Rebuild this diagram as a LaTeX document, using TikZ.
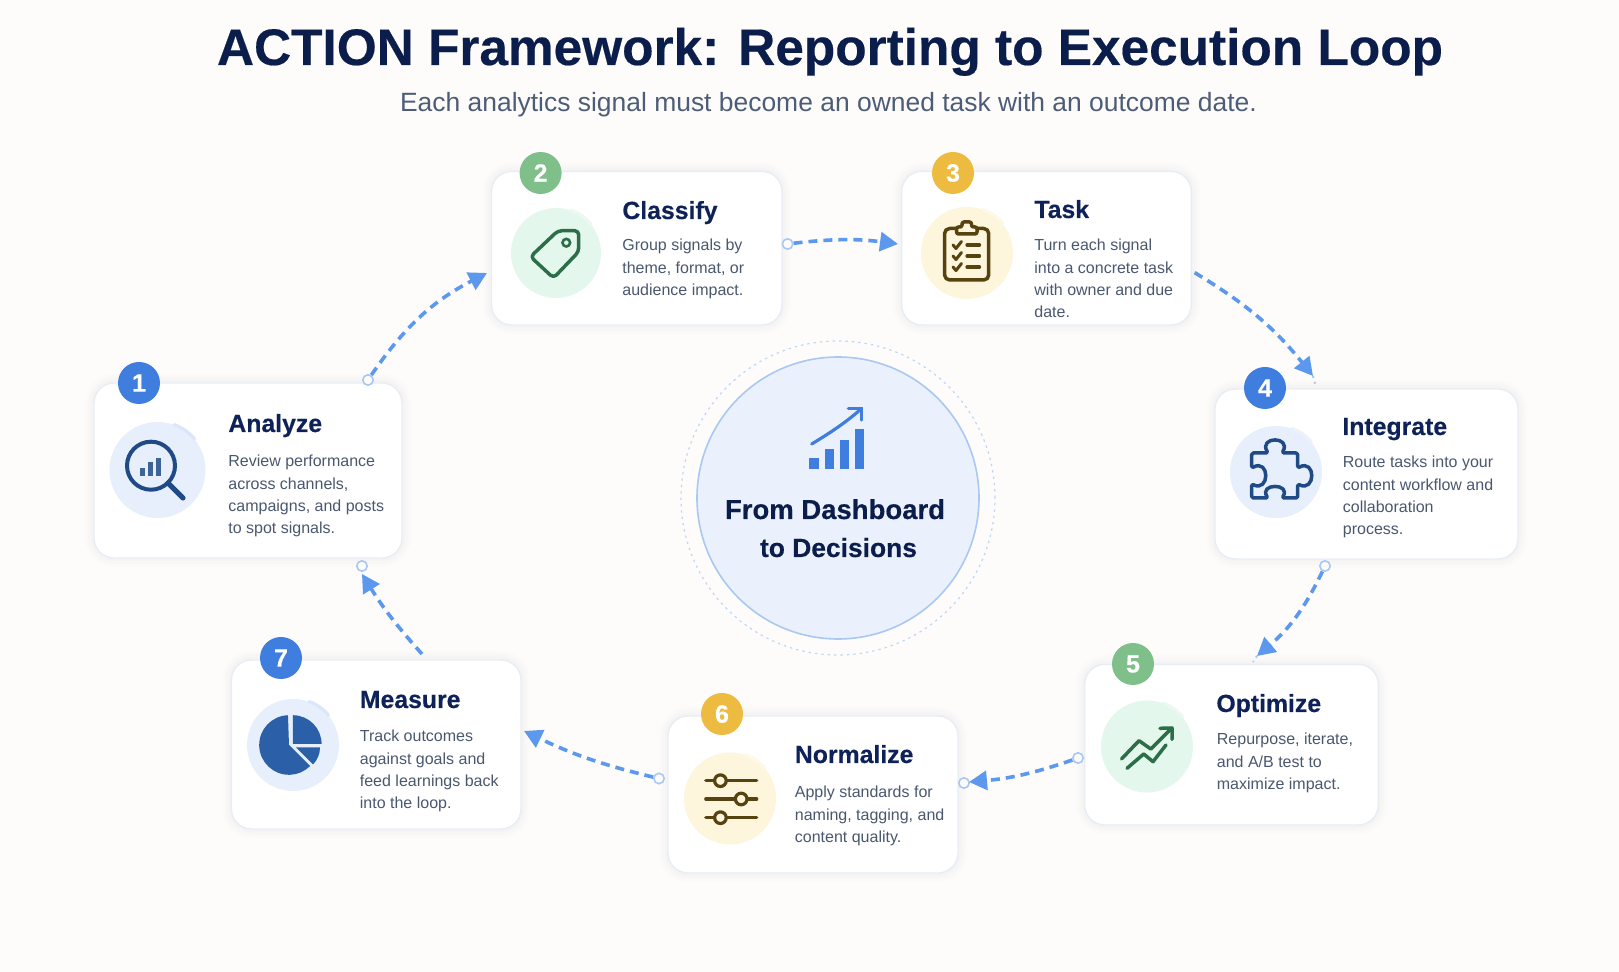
\documentclass[tikz,border=0pt]{standalone}
\usepackage{fontspec}
\setmainfont{Liberation Sans}[BoldFeatures={FakeBold=0.35}]
\usetikzlibrary{arrows.meta}
\definecolor{pagebg}{HTML}{FDFCFA}
\definecolor{navy}{HTML}{0E2259}
\definecolor{headnavy}{HTML}{0B1E4B}
\definecolor{bodytext}{HTML}{4A586F}
\definecolor{subtext}{HTML}{4D5D78}
\definecolor{edgecard}{HTML}{E8EDF4}
\definecolor{flowblue}{HTML}{5C98EE}
\definecolor{dotblue}{HTML}{A9C8F5}
\definecolor{badgeblue}{HTML}{3F7EDF}
\definecolor{badgegreen}{HTML}{7FC08A}
\definecolor{badgeyellow}{HTML}{EDBB3F}
\definecolor{softblue}{HTML}{E6EFFB}
\definecolor{softgreen}{HTML}{E4F7EC}
\definecolor{softyellow}{HTML}{FDF6DC}
\definecolor{iconblue}{HTML}{1F4A85}
\definecolor{icongreen}{HTML}{2B6E47}
\definecolor{iconbrown}{HTML}{57430F}
\definecolor{piefill}{HTML}{2B5FA8}
\definecolor{hubfill}{HTML}{EBF1FC}
\definecolor{hubedge}{HTML}{A9C8F2}
\definecolor{shadowc}{HTML}{5A6E96}
\tikzset{
  cardbox/.style={rectangle,rounded corners=10pt,fill=white,draw=edgecard,line width=.7pt,inner sep=0pt,
    preaction={draw=shadowc,draw opacity=.012,line width=9pt},
    preaction={draw=shadowc,draw opacity=.014,line width=6pt},
    preaction={draw=shadowc,draw opacity=.018,line width=3pt}},
  badge/.style={circle,minimum size=21pt,inner sep=0pt,text=white,font=\fontsize{12.5}{14}\selectfont\bfseries},
  iconbg/.style={circle,minimum size=46pt,inner sep=0pt},
  cardtitle/.style={anchor=base west,inner sep=0pt,text=navy,font=\fontsize{12.4}{15}\selectfont\bfseries},
  cardbody/.style={anchor=base west,inner sep=0pt,text=bodytext,font=\fontsize{8}{11.15}\selectfont},
  flow/.style={draw=flowblue,line width=1.8pt,dash pattern=on 4.5pt off 3pt,-{Triangle[length=9pt,width=9.5pt,fill=flowblue]}},
  tailmark/.style={draw=dotblue,line width=1pt,dash pattern=on 1pt off 2pt},
  portdot/.style={circle,minimum size=5.2pt,inner sep=0pt,fill=pagebg,draw=dotblue,line width=.8pt},
  iconline/.style={line width=1.75pt,line cap=round,line join=round},
  lighttab/.style={line width=1.6pt,line cap=round},
}
\newcommand{\lines}[1]{\begin{tabular}[t]{@{}l@{}}#1\end{tabular}}
\begin{document}
\begin{tikzpicture}[x=0.5pt,y=-0.5pt]
\useasboundingbox (0,0) rectangle (1619,972);
\fill[pagebg] (0,0) rectangle (1619,972);

% heading
\node[anchor=base,inner sep=0pt,text=headnavy,font=\fontsize{25.68}{30}\selectfont\bfseries] (heading) at (830,65) {ACTION Framework: Reporting to Execution Loop};
\node[anchor=base,inner sep=0pt,text=subtext,font=\fontsize{13.22}{16}\selectfont] (subheading) at (828.5,112) {Each analytics signal must become an owned task with an outcome date.};

% hub
\node[circle,minimum size=157pt,inner sep=0pt,draw=dotblue!75!white,line width=.6pt,dash pattern=on 1.2pt off 2pt] (hubring) at (838,498) {};
\node[circle,minimum size=141pt,inner sep=0pt,fill=hubfill,draw=hubedge,line width=.8pt] (hub) at (838,498) {};
\fill[badgeblue] (809.3,458.3) rectangle (819,468.7);
\fill[badgeblue] (825,449.3) rectangle (833.7,468.7);
\fill[badgeblue] (840,440.3) rectangle (849,468.7);
\fill[badgeblue] (855,429.3) rectangle (864,468.7);
\draw[badgeblue,iconline,line width=1.6pt] (811.7,444) .. controls (830,433) and (848,421) .. (861.7,408.3);
\draw[badgeblue,iconline,line width=1.6pt] (848.3,408.3) -- (861.7,408.3) -- (861.7,420);
\node[anchor=base,inner sep=0pt,text=headnavy,font=\fontsize{13.75}{16}\selectfont\bfseries] (hubone) at (835,519) {From Dashboard};
\node[anchor=base,inner sep=0pt,text=headnavy,font=\fontsize{13.2}{16}\selectfont\bfseries] (hubtwo) at (838.5,557) {to Decisions};

% connector ends that sit in free space
\coordinate (tip12) at (487,273);
\coordinate (tip23) at (898,244);
\coordinate (tip34) at (1313,376);
\coordinate (end34) at (1316,387);
\coordinate (tip45) at (1257,656);
\coordinate (end45) at (1253,662);
\coordinate (tip56) at (969,782);
\coordinate (tip67) at (524,731);
\coordinate (tip71) at (362,574);
\coordinate (start71) at (422,654);
\coordinate (start34) at (1194.6,272.6);

% cards
\node[cardbox,minimum width=154pt,minimum height=87.5pt] (card1) at (248,470.5) {};
\node[cardbox,minimum width=145.25pt,minimum height=76.8pt] (card2) at (636.75,248.2) {};
\node[cardbox,minimum width=144.8pt,minimum height=76.8pt] (card3) at (1046.5,248.2) {};
\node[cardbox,minimum width=151.5pt,minimum height=85pt] (card4) at (1366.5,474) {};
\node[cardbox,minimum width=146.8pt,minimum height=80.3pt] (card5) at (1231.5,744.7) {};
\node[cardbox,minimum width=145pt,minimum height=78.5pt] (card6) at (813,794.5) {};
\node[cardbox,minimum width=144.8pt,minimum height=84.5pt] (card7) at (376.2,744.5) {};

% icon discs
\node[iconbg,fill=softblue,minimum size=48pt] (icon1) at (157.5,470) {};
\node[iconbg,fill=softgreen,minimum size=45pt] (icon2) at (556,253) {};
\node[iconbg,fill=softyellow] (icon3) at (967,253) {};
\node[iconbg,fill=softblue] (icon4) at (1276,472) {};
\node[iconbg,fill=softgreen] (icon5) at (1147,746.5) {};
\node[iconbg,fill=softyellow] (icon6) at (730,798.5) {};
\node[iconbg,fill=softblue] (icon7) at (293,745) {};
\draw[lighttab,draw=softblue!80!dotblue] (icon1.40) arc[start angle=40,end angle=70,radius=24pt];
\draw[lighttab,draw=softgreen!70!white] (icon2.40) arc[start angle=40,end angle=70,radius=22.5pt];
\draw[lighttab,draw=softyellow!70!white] (icon3.40) arc[start angle=40,end angle=70,radius=23pt];
\draw[lighttab,draw=softblue!80!white] (icon4.40) arc[start angle=40,end angle=70,radius=23pt];
\draw[lighttab,draw=softgreen!70!white] (icon5.40) arc[start angle=40,end angle=70,radius=23pt];
\draw[lighttab,draw=softyellow!70!white] (icon6.40) arc[start angle=40,end angle=70,radius=23pt];
\draw[lighttab,draw=softblue!80!dotblue] (icon7.40) arc[start angle=40,end angle=70,radius=23pt];

% badges
\node[badge,fill=badgeblue] (badge1) at (139,383) {1};
\node[badge,fill=badgegreen] (badge2) at (540.6,173) {2};
\node[badge,fill=badgeyellow] (badge3) at (953,173) {3};
\node[badge,fill=badgeblue] (badge4) at (1265,388) {4};
\node[badge,fill=badgegreen] (badge5) at (1133,664) {5};
\node[badge,fill=badgeyellow] (badge6) at (722,714) {6};
\node[badge,fill=badgeblue] (badge7) at (281,658) {7};

% titles
\node[cardtitle] (title1) at (228,432) {Analyze};
\node[cardtitle] (title2) at (622,219) {Classify};
\node[cardtitle] (title3) at (1034,218) {Task};
\node[cardtitle] (title4) at (1342,435) {Integrate};
\node[cardtitle] (title5) at (1216,712) {Optimize};
\node[cardtitle] (title6) at (794.5,763) {Normalize};
\node[cardtitle] (title7) at (359.5,708) {Measure};

% descriptions
\node[cardbody] (body1) at (228,467) {\lines{Review performance\\across channels,\\campaigns, and posts\\to spot signals.}};
\node[cardbody] (body2) at (622,251) {\lines{Group signals by\\theme, format, or\\audience impact.}};
\node[cardbody] (body3) at (1034,251) {\lines{Turn each signal\\into a concrete task\\with owner and due\\date.}};
\node[cardbody] (body4) at (1342.5,468) {\lines{Route tasks into your\\content workflow and\\collaboration\\process.}};
\node[cardbody] (body5) at (1216.5,745) {\lines{Repurpose, iterate,\\and A/B test to\\maximize impact.}};
\node[cardbody] (body6) at (794.5,798) {\lines{Apply standards for\\naming, tagging, and\\content quality.}};
\node[cardbody] (body7) at (359.5,742) {\lines{Track outcomes\\against goals and\\feed learnings back\\into the loop.}};

% magnifier
\draw[iconblue,line width=2pt] (151,465.7) circle[radius=12pt];
\draw[iconblue,iconline,line width=2.6pt] (168,483) -- (183,498);
\fill[iconblue!85!softblue] (140,468) rectangle (144.5,476);
\fill[iconblue!85!softblue] (148,462) rectangle (153,476);
\fill[iconblue!85!softblue] (156,458) rectangle (161,476);

% tag
\draw[icongreen,iconline,rounded corners=2pt] (558,230.7) -- (578.7,230.7) -- (578.7,251.7) -- (553.5,278) -- (530.5,256.7) -- cycle;
\draw[icongreen,line width=1.3pt] (566.3,242.7) circle[radius=1.9pt];

% clipboard
\draw[iconbrown,iconline,rounded corners=2.5pt] (956.6,228.5) -- (944.6,228.5) -- (944.6,280) -- (988.7,280) -- (988.7,228.5) -- (977,228.5);
\draw[iconbrown,iconline,fill=softyellow,rounded corners=1pt] (956.6,234) -- (956.6,227) -- (962,227) -- (962,222) -- (971.5,222) -- (971.5,227) -- (977,227) -- (977,234) -- cycle;
\foreach \r in {245,256,267}{
  \draw[iconbrown,iconline,line width=1.5pt] (953,\r) -- (956,\r+3.5) -- (961.5,\r-3.5);
  \draw[iconbrown,iconline,line width=1.6pt] (967,\r) -- (979.5,\r);
}

% puzzle piece
\draw[iconblue,iconline,rounded corners=.8pt] (1251.7,453) -- (1268,453) .. controls (1258,436) and (1292,436) .. (1282,453) -- (1297.7,453) -- (1297.7,468) .. controls (1316,458) and (1316,493) .. (1297.7,484) -- (1297.7,498) -- (1282,498) .. controls (1292,483) and (1258,483) .. (1268,498) -- (1251.7,498) -- (1251.7,484) .. controls (1270,493) and (1270,458) .. (1251.7,468) -- cycle;

% rising lines
\draw[icongreen,iconline] (1121.5,759) -- (1139,740.7) -- (1150.8,749) -- (1172,728);
\draw[icongreen,iconline] (1160,728.3) -- (1172,728) -- (1172,739.3);
\draw[icongreen,iconline] (1127,768.3) -- (1143.7,754) -- (1153,761.7) -- (1166,745);

% sliders
\draw[iconbrown,iconline,line width=1.6pt] (705.8,780.7) -- (756.7,780.7);
\draw[iconbrown,iconline,line width=1.6pt] (705.8,799) -- (756.7,799);
\draw[iconbrown,iconline,line width=1.6pt] (705.8,817.7) -- (756.7,817.7);
\draw[iconbrown,line width=1.6pt,fill=softyellow] (720.4,780.7) circle[radius=2.9pt];
\draw[iconbrown,line width=1.6pt,fill=softyellow] (741.2,799) circle[radius=2.9pt];
\draw[iconbrown,line width=1.6pt,fill=softyellow] (720.4,817.7) circle[radius=2.9pt];

% pie
\fill[piefill] (289,745) -- ++(92:14.9pt) arc[start angle=92,end angle=315,radius=14.9pt] -- cycle;
\fill[piefill] (292.8,744) -- ++(0:14.4pt) arc[start angle=0,end angle=90,radius=14.4pt] -- cycle;
\fill[piefill] (296,747.5) -- ++(0:12pt) arc[start angle=0,end angle=-45,radius=12pt] -- cycle;

% connector ports
\node[portdot] (port1) at (368,380) {};
\node[portdot] (port2) at (787.6,244) {};
\node[portdot] (port4) at (1325,566) {};
\node[portdot] (port5) at (1078,758) {};
\node[portdot] (port6) at (964,783) {};
\node[portdot] (port6b) at (659,778.5) {};
\node[portdot] (port1b) at (362,566) {};

% connectors
\draw[flow] (port1) to[bend left=14] (tip12);
\draw[flow] (port2) to[bend left=7] (tip23);
\draw[flow] (start34) to[bend left=10] (tip34);
\draw[tailmark] (tip34) -- (end34);
\draw[flow] (port4) to[bend left=12] (tip45);
\draw[tailmark] (tip45) -- (end45);
\draw[flow] (port5) to[bend left=7] (tip56);
\draw[flow] (port6b) to[bend left=6] (tip67);
\draw[flow] (start71) to[bend left=5] (tip71);
\end{tikzpicture}
\end{document}
